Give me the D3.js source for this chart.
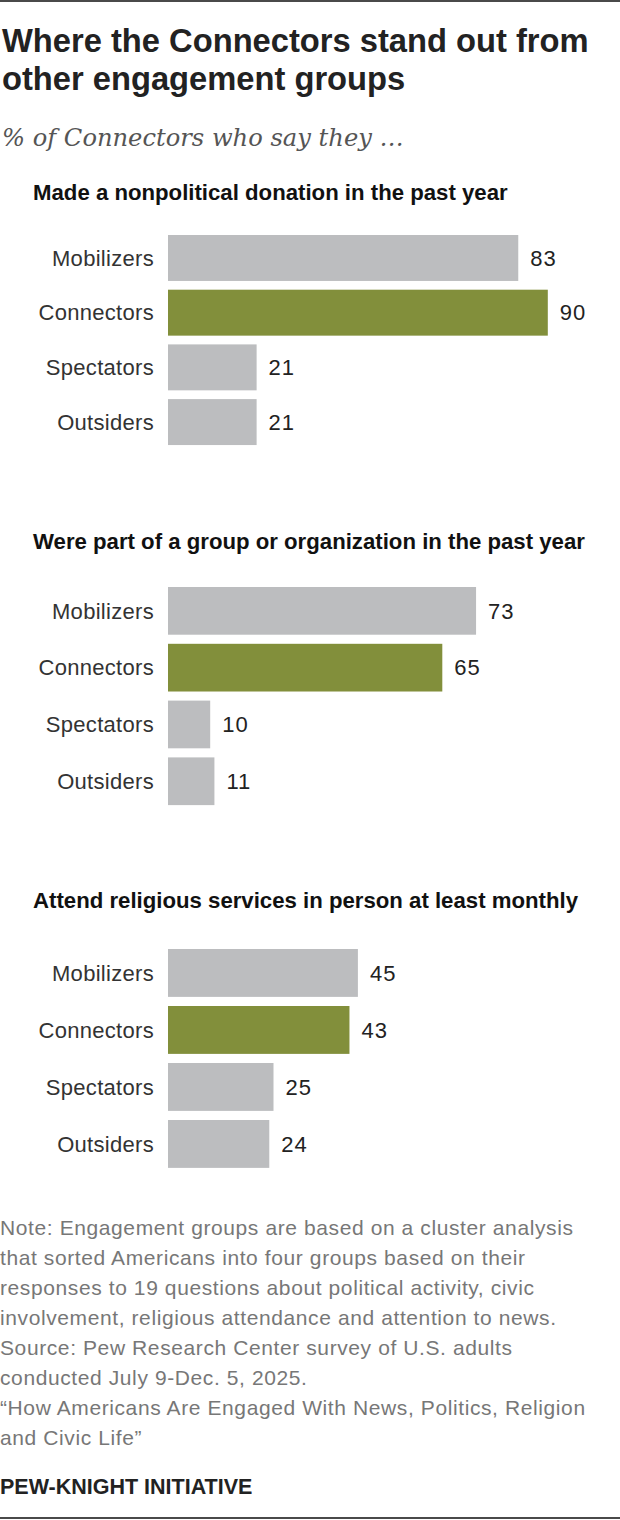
<!DOCTYPE html>
<html>
<head>
<meta charset="utf-8">
<script src="https://cdn.jsdelivr.net/npm/d3@7"></script>
<style>
  body { margin: 0; background: #fff; }
  svg { display: block; }
</style>
</head>
<body>
<script>
// chart data
var groups = ["Mobilizers", "Connectors", "Spectators", "Outsiders"];
var highlight = "Connectors";
var panelTitles = [
    "Made a nonpolitical donation in the past year",
    "Were part of a group or organization in the past year",
    "Attend religious services in person at least monthly"
];
var donation = [83, 90, 21, 21];
var groupMember = [73, 65, 10, 11];
var religious = [45, 43, 25, 24];
var panelValues = [donation, groupMember, religious];

var titleLines = ["Where the Connectors stand out from", "other engagement groups"];
var subtitle = "% of Connectors who say they \u2026";
var noteLines = [
    "Note: Engagement groups are based on a cluster analysis",
    "that sorted Americans into four groups based on their",
    "responses to 19 questions about political activity, civic",
    "involvement, religious attendance and attention to news.",
    "Source: Pew Research Center survey of U.S. adults",
    "conducted July 9-Dec. 5, 2025.",
    "\u201cHow Americans Are Engaged With News, Politics, Religion",
    "and Civic Life\u201d"
];
var brand = "PEW-KNIGHT INITIATIVE";

// layout
var widthScr = 620;
var heightScr = 1520;
var sans = "'Liberation Sans', Arial, sans-serif";
var grey = "#bcbdbf";
var green = "#828f3b";
var panels = [
    { headY: 200, top: 235, step: 54.7 },
    { headY: 549, top: 587, step: 56.8 },
    { headY: 908, top: 949, step: 57 }
];

var canvas = d3.select("body").append("svg")
    .attr("width", widthScr)
    .attr("height", heightScr);

canvas.append("rect")
    .attr("width", widthScr)
    .attr("height", heightScr)
    .attr("fill", "#fff");

// frame lines top and bottom
canvas.append("rect").attr("x", 0).attr("y", 0).attr("width", widthScr).attr("height", 2).attr("fill", "#4a4a4a");
canvas.append("rect").attr("x", 0).attr("y", heightScr - 3).attr("width", widthScr).attr("height", 2).attr("fill", "#4a4a4a");

// title
canvas.append("g").selectAll("text")
    .data(titleLines)
    .join("text")
    .attr("x", 2)
    .attr("y", function(d, i) { return 52 + i * 38; })
    .attr("font-family", sans)
    .attr("font-weight", "bold")
    .attr("font-size", 32.7)
    .attr("fill", "#222")
    .text(function(d) { return d; });

canvas.append("text")
    .attr("x", 2)
    .attr("y", 146)
    .attr("font-family", "'DejaVu Serif', 'Liberation Serif', serif")
    .attr("font-style", "italic")
    .attr("font-size", 24.2)
    .attr("fill", "#555")
    .text(subtitle);

var x = d3.scaleLinear().domain([0, 100]).range([168, 590]);

panels.forEach(function(p, k) {
    var values = panelValues[k];
    var rows = groups.map(function(g, i) { return { group: g, value: values[i] }; });
    var y = d3.scaleBand()
        .domain(groups)
        .range([p.top - p.step * 0.08, p.top - p.step * 0.08 + p.step * 4])
        .paddingInner(0.16)
        .paddingOuter(0.08);

    var g = canvas.append("g");

    g.append("text")
        .attr("x", 33)
        .attr("y", p.headY)
        .attr("font-family", sans)
        .attr("font-weight", "bold")
        .attr("font-size", 22.2)
        .attr("fill", "#111")
        .text(panelTitles[k]);

    g.selectAll("rect.bar")
        .data(rows)
        .join("rect")
        .attr("class", "bar")
        .attr("x", x(0))
        .attr("y", function(d) { return y(d.group); })
        .attr("width", function(d) { return x(d.value) - x(0); })
        .attr("height", y.bandwidth())
        .attr("fill", function(d) { return d.group === highlight ? green : grey; });

    g.selectAll("text.cat")
        .data(rows)
        .join("text")
        .attr("class", "cat")
        .attr("x", 154)
        .attr("y", function(d) { return y(d.group) + y.bandwidth() / 2; })
        .attr("dy", "0.35em")
        .attr("text-anchor", "end")
        .attr("font-family", sans)
        .attr("font-size", 22)
        .attr("letter-spacing", 0.3)
        .attr("fill", "#333")
        .text(function(d) { return d.group; });

    g.selectAll("text.val")
        .data(rows)
        .join("text")
        .attr("class", "val")
        .attr("x", function(d) { return x(d.value) + 12; })
        .attr("y", function(d) { return y(d.group) + y.bandwidth() / 2; })
        .attr("dy", "0.35em")
        .attr("font-family", sans)
        .attr("font-size", 22)
        .attr("letter-spacing", 1)
        .attr("fill", "#222")
        .text(function(d) { return d.value; });
});

// notes
canvas.append("g").selectAll("text")
    .data(noteLines)
    .join("text")
    .attr("x", 0)
    .attr("y", function(d, i) { return 1235 + i * 30; })
    .attr("font-family", sans)
    .attr("font-size", 21)
    .attr("letter-spacing", 0.6)
    .attr("fill", "#777")
    .text(function(d) { return d; });

canvas.append("text")
    .attr("x", 0)
    .attr("y", 1494)
    .attr("font-family", sans)
    .attr("font-weight", "bold")
    .attr("font-size", 21.5)
    .attr("fill", "#222")
    .text(brand);
</script>
</body>
</html>
